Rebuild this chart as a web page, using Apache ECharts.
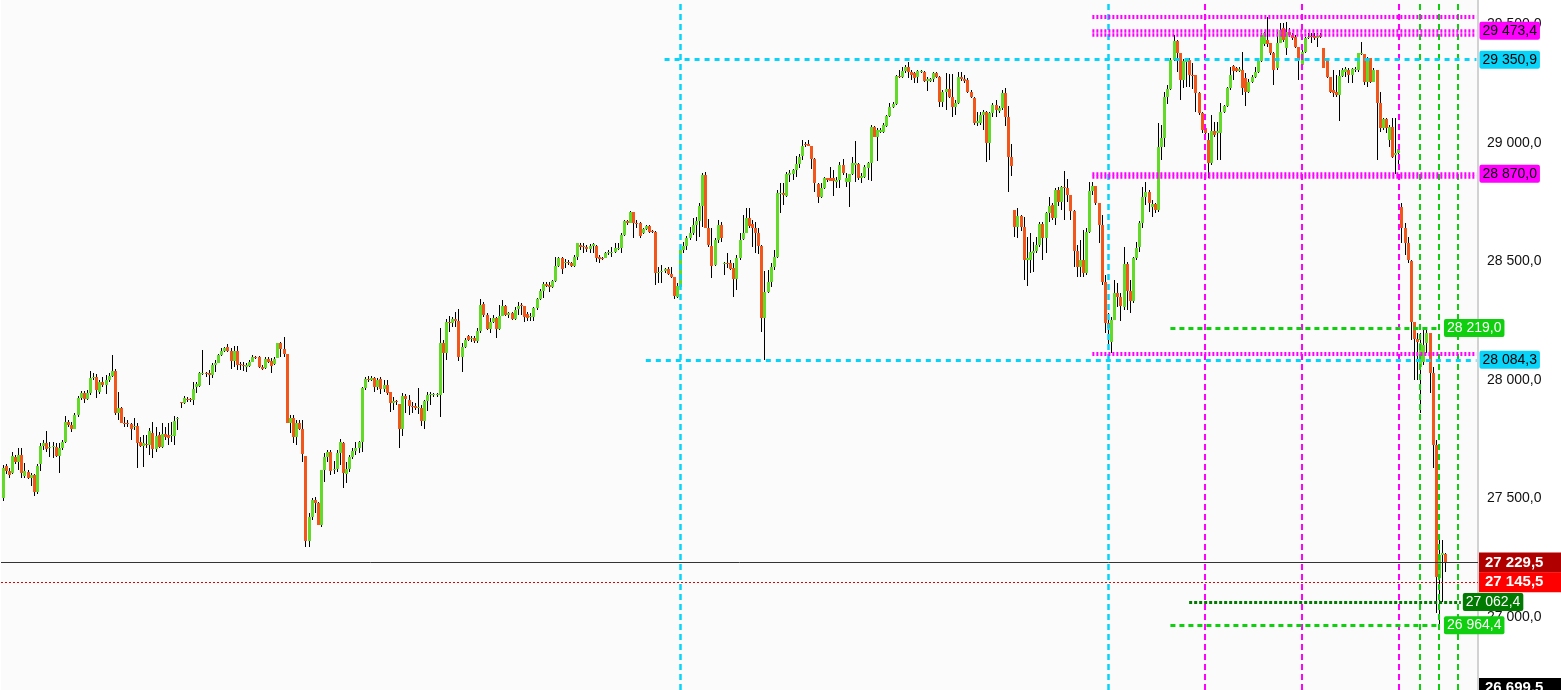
<!DOCTYPE html>
<html>
<head>
<meta charset="utf-8">
<script src="https://cdn.jsdelivr.net/npm/echarts@6/dist/echarts.min.js"></script>
<style>
html,body{margin:0;padding:0;background:#fff;}
#chart{width:1561px;height:690px;}
</style>
</head>
<body>
<div id="chart"></div>
<script>
// ---------- DATA ----------
const slotCount = 473;
const categories = Array.from({length: slotCount}, (_, k) => String(k + 1));

const opens = [
27502,27637,27616,27607,27675,27654,27683,27595,27612,27586,
27599,27527,27645,27721,27734,27713,27717,27717,27679,27713,
27738,27823,27810,27793,27852,27924,27945,27920,27945,28008,
28012,27949,27991,27979,28000,28017,28038,27861,27882,27818,
27818,27814,27801,27806,27738,27721,27730,27726,27776,27709,
27768,27717,27772,27768,27763,27763,27835,27907,27903,27920,
27920,27915,27970,27975,28025,28029,28029,28021,28063,28071,
28105,28122,28139,28122,28080,28122,28067,28063,28055,28059,
28076,28097,28097,28055,28050,28088,28080,28067,28093,28156,
28131,28109,27818,27839,27759,27818,27793,27679,27321,27422,
27494,27481,27388,27620,27675,27696,27620,27624,27692,27734,
27603,27624,27675,27700,27713,27738,27966,28004,28000,28008,
27970,28004,27962,27979,27949,27903,27911,27898,27793,27932,
27915,27890,27890,27882,27882,27827,27911,27937,27937,27937,
27937,28156,28114,28244,28240,28257,28249,28097,28139,28185,
28173,28177,28164,28206,28320,28274,28215,28244,28261,28215,
28270,28312,28274,28282,28257,28299,28316,28312,28278,28265,
28265,28304,28342,28375,28405,28401,28392,28418,28481,28515,
28493,28498,28493,28481,28519,28569,28565,28561,28553,28565,
28565,28519,28515,28515,28536,28536,28540,28553,28557,28612,
28671,28662,28709,28662,28662,28620,28637,28650,28628,28624,
28451,28455,28460,28468,28447,28434,28350,28392,28548,28565,
28599,28620,28654,28671,28734,28865,28641,28565,28485,28591,
28654,28489,28493,28493,28472,28426,28515,28595,28620,28683,
28658,28641,28620,28565,28261,28371,28413,28477,28519,28784,
28789,28776,28865,28869,28886,28911,28945,28995,28995,28987,
28932,28827,28772,28810,28852,28852,28852,28835,28844,28907,
28835,28835,28869,28907,28911,28852,28856,28894,28916,29067,
29025,29046,29046,29071,29114,29152,29164,29282,29278,29303,
29320,29299,29295,29278,29299,29299,29261,29261,29270,29295,
29278,29173,29215,29228,29194,29152,29168,29278,29270,29265,
29215,29190,29084,29084,29118,29130,29000,29126,29160,29135,
29147,29211,29109,28941,28717,28645,28692,28645,28506,28506,
28536,28544,28569,28658,28599,28704,28738,28683,28801,28751,
28814,28810,28780,28713,28544,28477,28506,28451,28624,28797,
28818,28746,28654,28413,28240,28160,28253,28367,28350,28308,
28489,28375,28333,28515,28561,28662,28772,28793,28730,28742,
28717,28983,29021,29194,29228,29350,29430,29379,29265,29341,
29350,29287,29287,29211,29126,29063,29012,28916,29050,29042,
29042,29130,29156,29232,29324,29316,29303,29308,29274,29215,
29257,29278,29299,29346,29417,29434,29422,29379,29316,29422,
29485,29400,29468,29455,29447,29405,29329,29384,29443,29451,
29451,29443,29455,29400,29350,29278,29223,29215,29202,29282,
29299,29308,29287,29308,29308,29375,29375,29257,29358,29257,
29308,29168,29063,29101,29012,29067,28949,28958,28730,28641,
28578,28502,28244,28173,28055,28076,28156,28198,28029,27726,
27164,27261,27266
];

const closes = [
27629,27616,27599,27679,27654,27683,27607,27616,27586,27599,
27527,27637,27721,27734,27709,27717,27721,27679,27713,27738,
27823,27810,27793,27852,27924,27945,27920,27945,28008,28012,
27958,27991,27979,28000,28017,28038,27861,27882,27818,27814,
27814,27793,27806,27734,27721,27734,27726,27785,27709,27763,
27717,27772,27759,27755,27768,27827,27839,27903,27924,27915,
27915,27962,27983,28029,28029,28025,28021,28063,28071,28105,
28122,28135,28122,28080,28122,28063,28063,28059,28063,28076,
28097,28093,28055,28046,28088,28076,28059,28088,28156,28131,
28109,27818,27839,27759,27818,27793,27688,27321,27422,27494,
27481,27388,27620,27675,27696,27616,27624,27692,27738,27607,
27624,27675,27700,27713,27738,27966,28004,28000,28008,27970,
28000,27962,27979,27945,27903,27911,27907,27793,27932,27920,
27890,27886,27882,27886,27827,27911,27937,27941,27941,27941,
28156,28114,28244,28240,28257,28249,28097,28139,28169,28169,
28177,28164,28206,28316,28274,28215,28244,28261,28215,28270,
28312,28274,28282,28257,28295,28312,28312,28265,28261,28270,
28304,28342,28375,28405,28396,28392,28418,28481,28515,28468,
28498,28493,28481,28519,28578,28561,28561,28553,28565,28574,
28515,28510,28510,28536,28540,28540,28557,28557,28612,28671,
28662,28709,28662,28658,28607,28637,28650,28624,28624,28451,
28455,28460,28468,28447,28434,28354,28396,28548,28565,28599,
28620,28654,28671,28734,28865,28641,28569,28481,28591,28654,
28599,28493,28489,28468,28426,28515,28591,28620,28683,28650,
28641,28620,28565,28261,28371,28413,28477,28519,28789,28789,
28780,28869,28873,28886,28911,28941,28987,28991,28987,28932,
28831,28772,28810,28852,28844,28839,28839,28844,28907,28873,
28852,28869,28916,28916,28852,28860,28898,28916,29067,29025,
29055,29055,29076,29114,29152,29164,29282,29278,29303,29320,
29299,29287,29274,29303,29303,29261,29270,29270,29295,29278,
29173,29215,29228,29194,29152,29168,29278,29270,29261,29215,
29194,29084,29093,29118,29130,29000,29126,29160,29139,29147,
29211,29109,28941,28903,28645,28692,28645,28506,28515,28540,
28544,28569,28658,28599,28704,28734,28683,28801,28751,28814,
28810,28780,28713,28544,28477,28506,28451,28624,28797,28818,
28746,28654,28413,28240,28219,28253,28367,28350,28312,28489,
28375,28333,28515,28557,28662,28772,28793,28746,28742,28717,
28983,29021,29194,29228,29350,29430,29379,29265,29346,29354,
29287,29282,29211,29126,29055,29042,28916,29050,29033,29050,
29130,29156,29232,29287,29303,29303,29312,29232,29215,29257,
29278,29299,29346,29455,29464,29417,29379,29308,29422,29476,
29434,29468,29455,29443,29405,29350,29384,29443,29447,29447,
29443,29451,29447,29316,29278,29215,29211,29202,29282,29308,
29312,29287,29312,29312,29379,29379,29257,29358,29257,29308,
29168,29063,29101,29063,29067,28941,28958,28974,28641,28578,
28506,28244,28173,28160,28156,28147,28198,28029,27726,27169,
27261,27270,27229.5
];

const lows = [
27489,27603,27586,27603,27645,27620,27586,27586,27582,27553,
27510,27519,27616,27704,27696,27675,27671,27675,27607,27704,
27734,27801,27780,27793,27844,27915,27903,27915,27937,28000,
27924,27941,27970,27941,27991,28012,27852,27831,27818,27801,
27801,27747,27789,27629,27717,27633,27713,27683,27671,27696,
27713,27713,27747,27726,27738,27726,27789,27882,27898,27907,
27907,27894,27945,27970,28021,28012,27979,28008,28033,28071,
28101,28118,28118,28046,28055,28042,28042,28038,28033,28055,
28076,28088,28050,28042,28046,28071,28029,28063,28093,28097,
28097,27818,27776,27734,27726,27789,27654,27295,27295,27409,
27439,27388,27380,27569,27654,27599,27603,27612,27641,27544,
27565,27612,27667,27683,27692,27696,27958,27991,27996,27949,
27958,27941,27949,27937,27865,27873,27894,27713,27763,27861,
27852,27861,27873,27856,27806,27793,27869,27894,27928,27928,
27844,27945,28084,28202,28223,28223,28080,28033,28135,28164,
28160,28156,28156,28198,28265,28211,28198,28240,28177,28211,
28270,28270,28261,28253,28253,28274,28274,28244,28249,28249,
28249,28295,28337,28346,28392,28371,28388,28413,28477,28447,
28472,28485,28477,28477,28506,28548,28536,28540,28536,28536,
28498,28493,28506,28515,28527,28519,28536,28548,28536,28607,
28654,28662,28599,28641,28599,28616,28633,28620,28620,28401,
28409,28409,28451,28443,28430,28342,28346,28388,28536,28548,
28591,28612,28586,28603,28645,28641,28561,28430,28481,28578,
28582,28443,28472,28464,28350,28380,28506,28591,28620,28641,
28561,28536,28531,28202,28084,28367,28392,28464,28515,28704,
28738,28772,28835,28844,28856,28894,28928,28983,28987,28890,
28793,28746,28768,28806,28835,28839,28776,28810,28810,28865,
28814,28730,28865,28835,28844,28831,28852,28844,28839,29025,
28924,29042,29042,29067,29109,29147,29160,29274,29274,29295,
29274,29265,29253,29253,29295,29257,29219,29257,29257,29274,
29152,29152,29139,29190,29109,29118,29164,29261,29253,29211,
29190,29076,29071,29076,29055,28920,28928,29109,29109,29126,
29139,29071,28793,28860,28603,28599,28628,28422,28396,28451,
28455,28536,28561,28506,28536,28666,28675,28654,28734,28717,
28675,28751,28675,28477,28434,28434,28434,28443,28620,28780,
28738,28578,28401,28198,28139,28114,28253,28308,28249,28295,
28295,28282,28325,28506,28540,28641,28738,28709,28688,28704,
28709,28928,28983,29164,29223,29346,29299,29181,29232,29236,
29236,29228,29130,29118,29042,29021,28852,28907,29025,28928,
28928,29126,29152,29223,29265,29299,29299,29202,29156,29211,
29253,29274,29295,29341,29409,29405,29371,29244,29308,29422,
29426,29371,29447,29434,29400,29265,29320,29379,29438,29422,
29434,29405,29443,29316,29274,29211,29194,29194,29093,29278,
29278,29253,29253,29299,29299,29371,29244,29236,29253,29257,
28928,29046,29055,29042,28983,28937,28870,28894,28578,28527,
28493,28169,28000,28000,27861,28063,28114,27945,27629,27017,
26964.4,27062.4,27190
];

const highs = [
27641,27645,27629,27696,27683,27713,27713,27650,27620,27607,
27603,27645,27734,27747,27785,27738,27738,27734,27734,27747,
27848,27831,27823,27861,27932,27953,27953,27958,28038,28029,
28025,28000,28012,28021,28029,28105,28046,27949,27886,27844,
27831,27818,27839,27818,27759,27768,27768,27797,27823,27801,
27780,27818,27801,27818,27823,27848,27844,27907,27932,27928,
27924,27991,27991,28033,28126,28033,28042,28071,28084,28109,
28135,28139,28152,28135,28143,28143,28076,28076,28071,28084,
28105,28101,28101,28063,28097,28097,28093,28097,28156,28160,
28181,28109,27852,27852,27831,27831,27831,27679,27439,27502,
27506,27485,27620,27692,27704,27704,27658,27704,27751,27738,
27654,27683,27713,27738,27742,27970,28012,28017,28017,28012,
28008,28012,28000,28000,27949,27928,27915,27898,27945,27941,
27937,27907,27903,27966,27894,27915,27949,27949,27945,27945,
28219,28169,28257,28270,28265,28286,28299,28156,28177,28190,
28185,28185,28219,28342,28329,28282,28261,28274,28265,28316,
28337,28316,28286,28286,28308,28329,28325,28312,28286,28282,
28308,28346,28384,28413,28413,28413,28422,28519,28519,28519,
28510,28506,28498,28527,28578,28578,28578,28569,28574,28578,
28569,28527,28519,28540,28548,28561,28578,28578,28620,28675,
28675,28713,28709,28675,28666,28641,28654,28654,28633,28628,
28477,28485,28472,28477,28477,28434,28409,28557,28582,28607,
28645,28683,28688,28746,28873,28877,28679,28641,28599,28675,
28666,28498,28536,28506,28493,28527,28620,28696,28725,28725,
28675,28666,28641,28569,28460,28464,28493,28548,28801,28831,
28831,28877,28886,28890,28945,28953,29012,29004,29012,28987,
28937,28831,28831,28856,28852,28898,28886,28856,28920,28932,
28873,28869,28941,29008,28916,28873,28907,28920,29076,29071,
29063,29063,29084,29118,29168,29173,29287,29308,29320,29329,
29341,29308,29299,29308,29308,29303,29278,29274,29299,29299,
29282,29223,29295,29291,29291,29181,29299,29299,29287,29274,
29223,29194,29130,29130,29139,29135,29130,29168,29181,29156,
29223,29232,29156,28995,28717,28725,28696,28688,28603,28620,
28582,28603,28666,28666,28709,28772,28746,28810,28814,28818,
28882,28848,28780,28717,28569,28591,28633,28641,28835,28835,
28818,28746,28696,28443,28282,28265,28422,28409,28367,28561,
28498,28422,28519,28582,28671,28814,28835,28801,28759,28746,
29084,29076,29215,29244,29358,29455,29434,29379,29354,29358,
29358,29337,29287,29215,29130,29067,29042,29118,29088,29088,
29168,29160,29236,29320,29329,29320,29320,29384,29295,29270,
29287,29320,29358,29464,29468,29531,29422,29384,29468,29506,
29506,29510,29485,29464,29455,29405,29392,29447,29464,29464,
29464,29464,29464,29400,29350,29278,29308,29287,29308,29316,
29320,29316,29316,29320,29379,29426,29375,29362,29358,29316,
29308,29215,29105,29105,29076,29105,29105,28983,28746,28662,
28603,28506,28244,28198,28198,28219,28215,28198,28055,27747,
27325,27325,27270
];

// price levels drawn as annotation lines
const magentaLevels = [29531, 29473.4, 29456, 28870, 28856, 28110];
const magentaLabelled = [29473.4, 28870];
const cyanLevels = [29350.9, 28084.3];
const cyanStarts = [212, 206];
const greenLevels = [28219.0, 26964.4];
const darkGreenLevel = 27062.4;
const lastPrice = 27229.5;
const bidPrice = 27145.5;
const bottomPrice = 26699.5;
const cyanVerticals = [217, 354];
const magentaVerticals = [385, 416, 447];
const greenVerticals = [454, 460, 466];
const yMin = 26691, yMax = 29603;

// ---------- HELPERS ----------
function fmt(v) {
  const s = Number(v).toFixed(1);
  const parts = s.split('.');
  return parts[0].replace(/\B(?=(\d{3})+(?!\d))/g, ' ') + ',' + parts[1];
}
const FONT = "'Liberation Sans', Arial, sans-serif";
const UP = '#63da27', DOWN = '#f2561b';
const MAGENTA = '#ff00ff', CYAN = '#08d4fa', GREEN = '#0fcf0f', DKGREEN = '#007a00';

const candleData = opens.map((o, i) => [i, o, closes[i], lows[i], highs[i]]);

function renderCandle(params, api) {
  const idx = api.value(0);
  const o = api.value(1), c = api.value(2), l = api.value(3), h = api.value(4);
  const pO = api.coord([idx, o]);
  const pC = api.coord([idx, c]);
  const pL = api.coord([idx, l]);
  const pH = api.coord([idx, h]);
  const cx = Math.round(pO[0]);
  const top = Math.round(Math.min(pO[1], pC[1]));
  const bot = Math.round(Math.max(pO[1], pC[1]));
  return {
    type: 'group',
    children: [
      { type: 'line', shape: { x1: cx + 0.5, y1: Math.round(pH[1]), x2: cx + 0.5, y2: Math.round(pL[1]) },
        style: { stroke: '#000', lineWidth: 1 } },
      { type: 'rect', shape: { x: cx - 1, y: top, width: 3, height: Math.max(1, bot - top) },
        style: { fill: c >= o ? UP : DOWN } }
    ]
  };
}

function boxLabel(v, bg, color, opts) {
  return Object.assign({
    show: true, position: 'end', formatter: fmt(v),
    backgroundColor: bg, color: color, fontFamily: FONT, fontSize: 14,
    lineHeight: 16, padding: [1, 3], distance: 3, borderRadius: 2
  }, opts || {});
}

const lines = [];
// vertical lines
cyanVerticals.forEach(ix => lines.push({ xAxis: ix, lineStyle: { color: CYAN, width: 2.5, type: [6, 4] }, label: { show: false } }));
magentaVerticals.forEach(ix => lines.push({ xAxis: ix, lineStyle: { color: MAGENTA, width: 2, type: [6, 4] }, label: { show: false } }));
greenVerticals.forEach(ix => lines.push({ xAxis: ix, lineStyle: { color: GREEN, width: 2, type: [6, 4] }, label: { show: false } }));
// magenta dotted levels
magentaLevels.forEach((v, k) => {
  const labelled = magentaLabelled.indexOf(v) >= 0;
  const w = (k === 0 || k === 5) ? 4 : 3.5;
  lines.push([
    { coord: [349, v], lineStyle: { color: MAGENTA, width: w, type: [2, 2] },
      label: labelled ? boxLabel(v, MAGENTA, '#000', { distance: 3 }) : { show: false } },
    { coord: [slotCount - 1, v] }
  ]);
});
// cyan dashed levels
cyanLevels.forEach((v, k) => {
  lines.push([
    { coord: [cyanStarts[k], v], lineStyle: { color: CYAN, width: 3, type: [5, 5] },
      label: boxLabel(v, CYAN, '#000', { distance: 3 }) },
    { coord: [slotCount - 1, v] }
  ]);
});
// green dashed levels
greenLevels.forEach(v => {
  lines.push([
    { coord: [374, v], lineStyle: { color: GREEN, width: 3, type: [5, 4] },
      label: boxLabel(v, GREEN, '#fff', { distance: 5 }) },
    { coord: [460, v] }
  ]);
});
// dark green dotted
lines.push([
  { coord: [380, darkGreenLevel], lineStyle: { color: DKGREEN, width: 3, type: [3, 2] },
    label: boxLabel(darkGreenLevel, DKGREEN, '#fff', { distance: 2 }) },
  { coord: [467, darkGreenLevel] }
]);
// last price and bid lines (full width)
const bigLabel = { fontWeight: 'bold', fontSize: 15, lineHeight: 16, padding: [2, 4, 2, 6], width: 72, distance: 1, borderRadius: 0 };
lines.push({ yAxis: lastPrice, lineStyle: { color: '#333', width: 1, type: 'solid' },
  label: boxLabel(lastPrice, '#b00000', '#fff', bigLabel) });
lines.push({ yAxis: bidPrice, lineStyle: { color: '#e00000', width: 1, type: [2, 2] },
  label: boxLabel(bidPrice, '#ff0000', '#fff', bigLabel) });
lines.push({ yAxis: bottomPrice, lineStyle: { color: 'rgba(0,0,0,0)', width: 1, type: 'solid' },
  label: boxLabel(bottomPrice, '#000000', '#ffffff', bigLabel) });

const chart = echarts.init(document.getElementById('chart'), null, { renderer: 'canvas' });
chart.setOption({
  animation: false,
  backgroundColor: '#ffffff',
  grid: { left: 1, right: 83, top: 0, bottom: 0, show: true, backgroundColor: '#fbfbfb', borderWidth: 0 },
  xAxis: {
    type: 'category', data: categories, boundaryGap: true, show: false
  },
  yAxis: {
    type: 'value', position: 'right', min: yMin, max: yMax, splitNumber: 6, scale: true,
    axisLine: { show: true, lineStyle: { color: '#d2d2d2', width: 2 } },
    axisTick: { show: false },
    splitLine: { show: false },
    axisLabel: {
      show: true, margin: 9, color: '#111', fontFamily: FONT, fontSize: 14,
      showMinLabel: false, showMaxLabel: false,
      formatter: v => fmt(v)
    }
  },
  series: [
    {
      type: 'custom', name: 'candles', renderItem: renderCandle, data: candleData,
      encode: { x: 0, y: [1, 2, 3, 4] }, clip: true, z: 2
    },
    {
      type: 'line', name: 'levels', data: [], z: 5, silent: true,
      markLine: { symbol: ['none', 'none'], silent: true, animation: false, precision: 1, data: lines }
    }
  ]
});
</script>
</body>
</html>
